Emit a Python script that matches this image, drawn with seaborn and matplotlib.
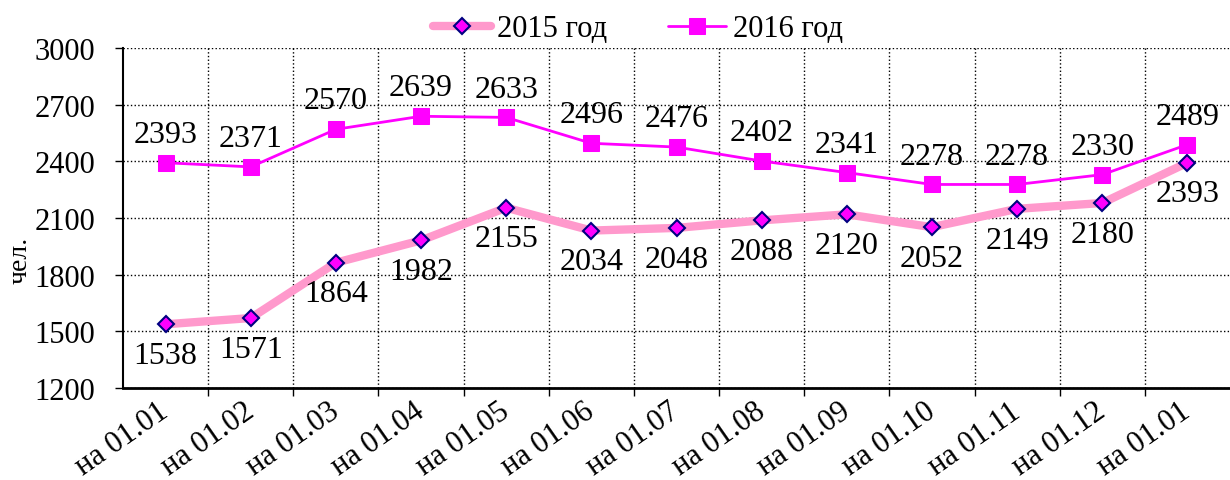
import numpy as np
import pandas as pd
import seaborn as sns
import matplotlib.pyplot as plt
import matplotlib.transforms as mtransforms

# Данные
months = ["на 01.01", "на 01.02", "на 01.03", "на 01.04", "на 01.05", "на 01.06", "на 01.07",
          "на 01.08", "на 01.09", "на 01.10", "на 01.11", "на 01.12", "на 01.01"]
y2015 = [1538, 1571, 1864, 1982, 2155, 2034, 2048, 2088, 2120, 2052, 2149, 2180, 2393]
y2016 = [2393, 2371, 2570, 2639, 2633, 2496, 2476, 2402, 2341, 2278, 2278, 2330, 2489]

sns.set_theme(style="white")
plt.rcParams['font.family'] = ['Liberation Serif', 'DejaVu Serif']
plt.rcParams['text.color'] = 'black'
plt.rcParams['xtick.color'] = 'black'
plt.rcParams['ytick.color'] = 'black'
plt.rcParams['axes.labelcolor'] = 'black'

pos = np.arange(len(months))
df = pd.DataFrame({'pos': pos, '2015': y2015, '2016': y2016})

fig = plt.figure(figsize=(12.3, 4.81), dpi=100)
ax = fig.add_axes([0.1, 0.191, 0.9, 0.707])

sns.lineplot(data=df, x='pos', y='2015', ax=ax, color='#FF99CC', linewidth=6,
             marker='D', markersize=8, markerfacecolor='#FF00FF', markeredgecolor='#000080',
             markeredgewidth=1.5, label='2015 год')
sns.lineplot(data=df, x='pos', y='2016', ax=ax, color='#FF00FF', linewidth=2,
             marker='s', markersize=12, markerfacecolor='#FF00FF', markeredgecolor='#FF00FF',
             label='2016 год')

# Подписи значений
for x, v in zip(pos, y2015):
    ax.annotate(str(v), (x, v), xytext=(0, -12), textcoords='offset points',
                ha='center', va='top', fontsize=23, color='black')
for x, v in zip(pos, y2016):
    ax.annotate(str(v), (x, v), xytext=(0, 10), textcoords='offset points',
                ha='center', va='bottom', fontsize=23, color='black')

ax.set_xlim(-0.5, len(months) - 0.5)
ax.set_ylim(1200, 3000)
ax.set_yticks(range(1200, 3001, 300))
ax.set_xticks(np.arange(0.5, len(months) - 1, 1))
ax.set_xticklabels([])
ax.set_xticks(pos, minor=True)
ax.set_xticklabels(months, minor=True, rotation=35, ha='right', rotation_mode='anchor', fontsize=22)
ax.tick_params(axis='x', which='minor', length=0, pad=6)
ax.tick_params(axis='x', which='major', length=6, width=1, color='black', direction='out', bottom=True)
ax.tick_params(axis='y', labelsize=22, length=6, width=1, color='black', left=True,
               direction='out', pad=14)

# сдвиг подписей оси X немного влево
shift = mtransforms.ScaledTranslation(-8 / 100, 0, fig.dpi_scale_trans)
for lbl in ax.get_xticklabels(minor=True):
    lbl.set_transform(lbl.get_transform() + shift)

ax.grid(True, which='major', color='black', linestyle=':', linewidth=1)
ax.set_axisbelow(True)
ax.set_xlabel('')
ax.set_ylabel('чел.', fontsize=20, va='center')
ax.yaxis.set_label_coords(-0.093, 0.38)

ax.spines['left'].set_color('black')
ax.spines['left'].set_linewidth(1.5)
ax.spines['bottom'].set_color('black')
ax.spines['bottom'].set_linewidth(2)
ax.spines['top'].set_visible(False)
ax.spines['right'].set_visible(False)

ax.legend(loc='upper center', bbox_to_anchor=(0.465, 1.18), ncol=2, frameon=False,
          fontsize=22, handlelength=1.9, handletextpad=0.2, columnspacing=2)

plt.savefig('out.png', dpi=100)
